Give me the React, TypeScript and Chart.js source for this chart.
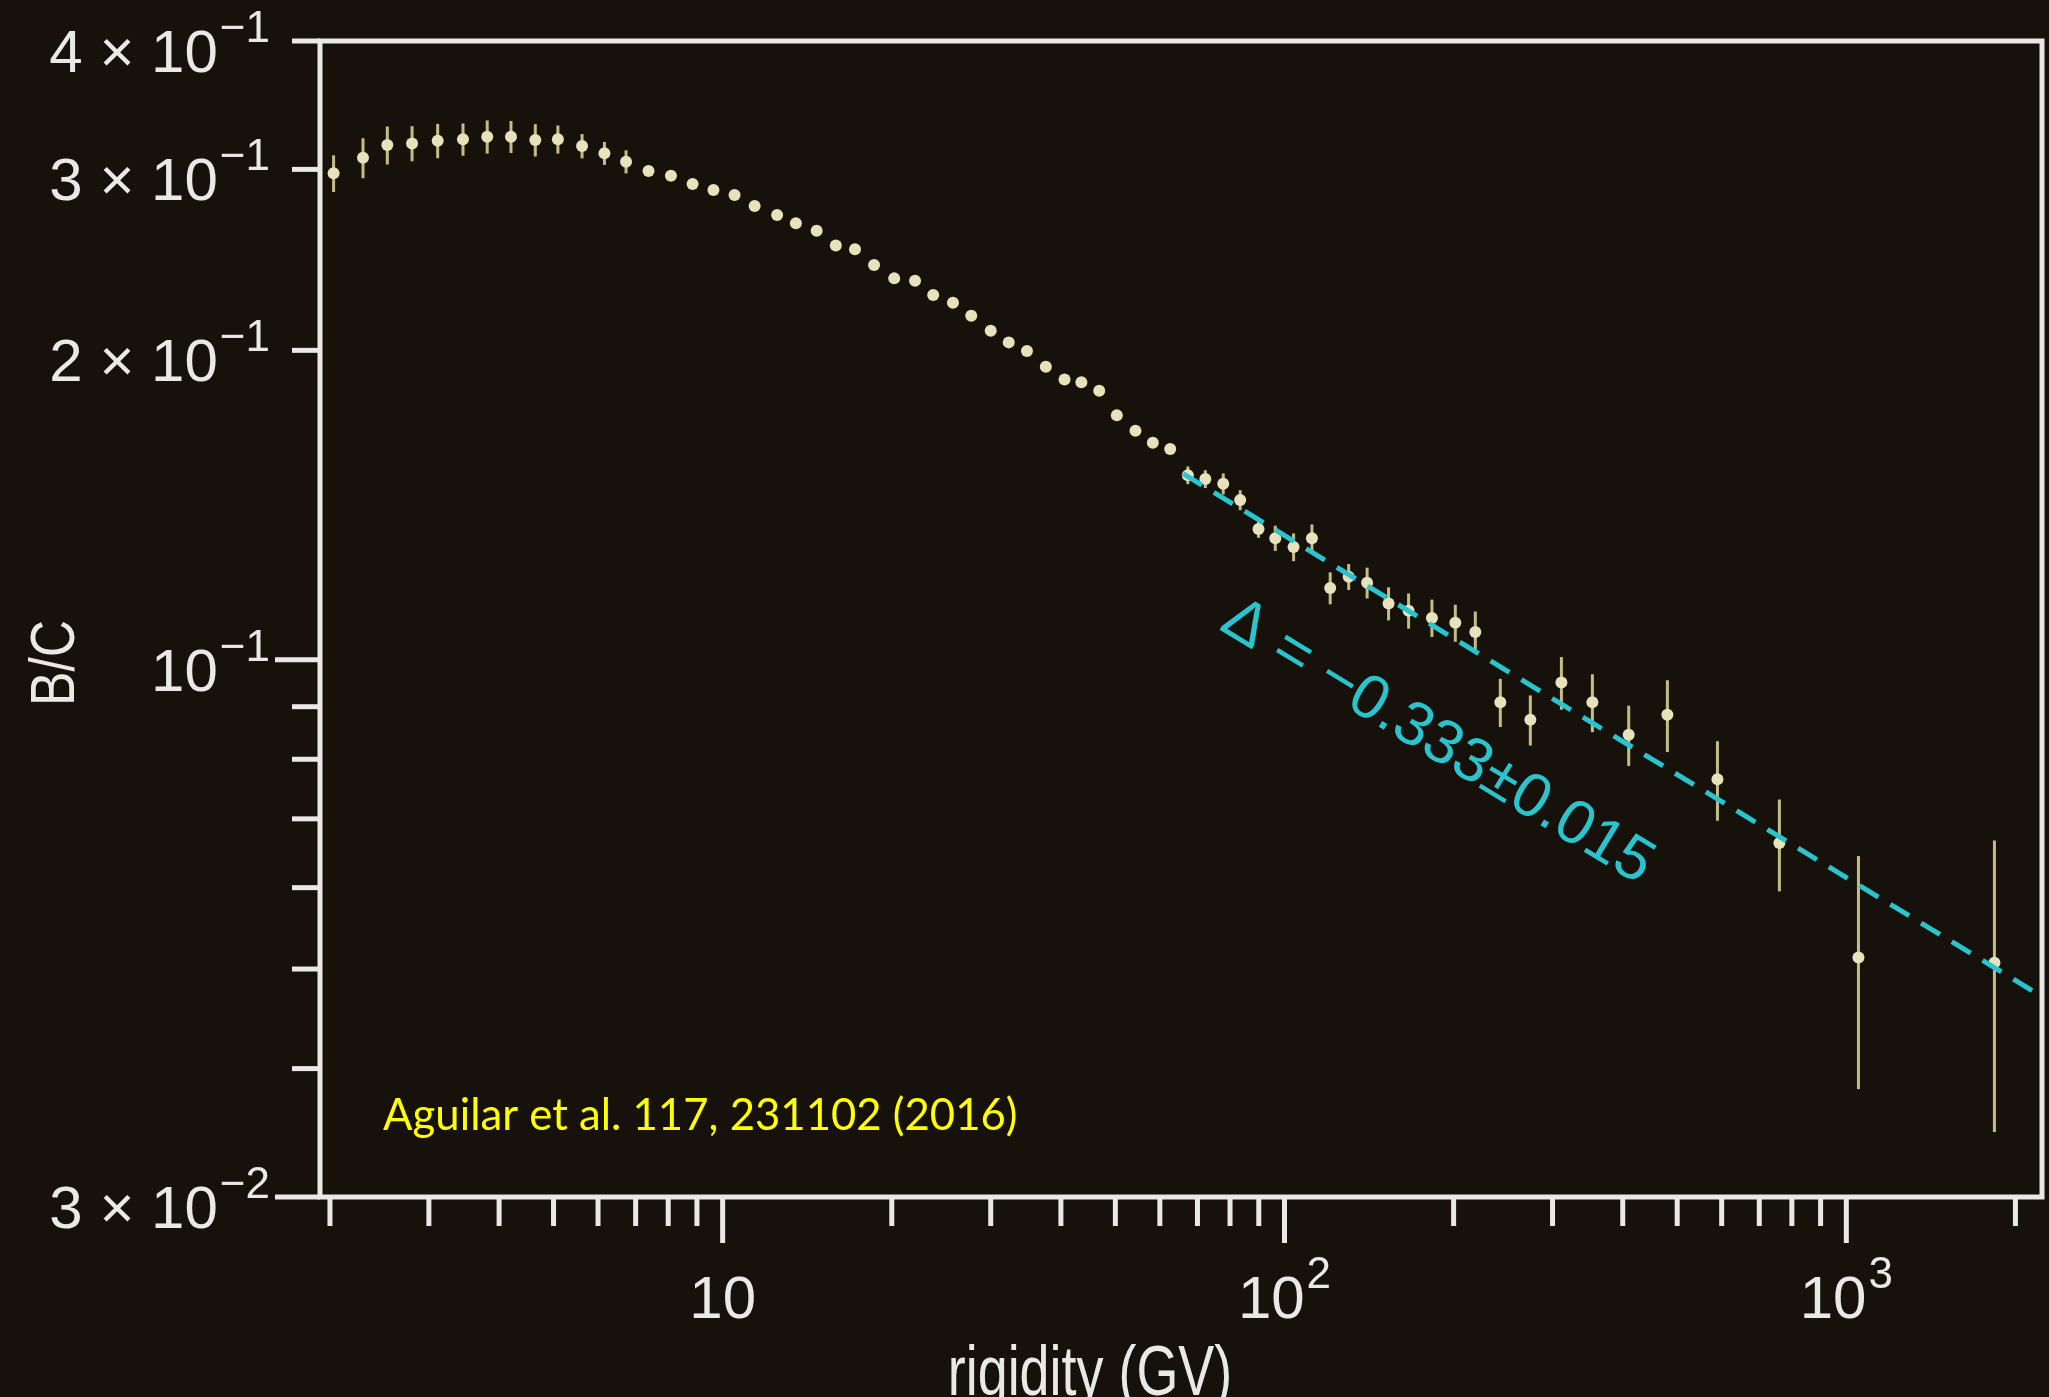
import { useEffect, useRef } from "react";
import { Chart, registerables } from "chart.js";

Chart.register(...registerables);

// ---------- data ----------
const rigidity = [
  2.03, 2.29, 2.53, 2.8, 3.11, 3.45, 3.81, 4.2, 4.64, 5.09, 5.62, 6.16, 6.73, 7.38, 8.09, 8.84, 9.63, 10.5, 11.4, 12.5, 13.5, 14.7,
  15.9, 17.2, 18.6, 20.2, 22.0, 23.7, 25.7, 27.7, 30.0, 32.3, 34.8, 37.6, 40.6, 43.5, 46.8, 50.3, 54.3, 58.3, 62.6,
  67.3, 72.3, 77.8, 83.4, 89.9, 96.3, 103.8, 111.9, 120.6, 130.1, 140.3, 153.2, 166.3, 183.0, 201.4, 218.6, 242.2, 273.9,
  311.1, 353.2, 409.9, 480.3, 589.7, 760.1, 1051, 1835,
];
const bcRatio = [
  0.2974, 0.3079, 0.3168, 0.318, 0.3199, 0.3209, 0.3228, 0.3228, 0.3204, 0.3209, 0.3161, 0.311, 0.3052, 0.2989, 0.2958, 0.2903, 0.2865, 0.2833, 0.2764, 0.2709, 0.2659, 0.2615,
  0.2529, 0.2508, 0.2421, 0.235, 0.2337, 0.2264, 0.2225, 0.2161, 0.209, 0.2036, 0.1997, 0.1928, 0.1874, 0.1862, 0.1827, 0.1729, 0.167, 0.1626, 0.1603,
  0.1512, 0.1499, 0.1483, 0.143, 0.134, 0.1313, 0.1287, 0.1313, 0.1174, 0.1204, 0.1188, 0.1134, 0.1116, 0.1098, 0.1086, 0.1064, 0.0909, 0.0874,
  0.095, 0.0909, 0.0845, 0.0884, 0.0765, 0.0663, 0.0513, 0.0507,
];
const bcError = [
  0.0122, 0.0138, 0.0135, 0.0125, 0.0123, 0.0116, 0.012, 0.0116, 0.0116, 0.0101, 0.0086, 0.008, 0.0079, 0.0034, 0.0033, 0.0032, 0.003, 0.0029, 0.0028, 0.0027, 0.0027, 0.0026,
  0.0026, 0.0025, 0.0024, 0.0024, 0.0023, 0.0023, 0.0022, 0.0022, 0.0021, 0.0021, 0.002, 0.002, 0.0019, 0.0019, 0.0019, 0.0018, 0.0018, 0.0018, 0.0018,
  0.003, 0.003, 0.0035, 0.0032, 0.0026, 0.0037, 0.004, 0.0041, 0.0042, 0.0035, 0.0041, 0.0042, 0.0044, 0.0046, 0.0045, 0.005, 0.0049, 0.0049,
  0.0056, 0.0059, 0.0057, 0.0071, 0.0068, 0.0068, 0.0131, 0.016,
];

// power-law fit (dashed line)
const fitX = [66, 2230];
const fitY = [0.1517, 0.047];
const fitLabel = "Δ = −0.333±0.015";
const fitLabelAt = [187, 0.0831];

const citation = "Aguilar et al. 117, 231102 (2016)";

// axes
const xMin = 1.92;
const xMax = 2230;
const yMin = 0.03;
const yMax = 0.4;
const xShortTicks = [2, 3, 4, 5, 6, 7, 8, 9, 20, 30, 40, 50, 60, 70, 80, 90, 200, 300, 400, 500, 600, 700, 800, 900, 2000];
const xLongTicks = [10, 100, 1000];
const xLabelValues = [10, 100, 1000];
const xLabelBase = ["10", "10", "10"];
const xLabelExp = ["", "2", "3"];
const yShortTicks = [0.4, 0.3, 0.2, 0.09, 0.08, 0.07, 0.06, 0.05, 0.04];
const yLongTicks = [0.1, 0.03];
const yLabelValues = [0.4, 0.3, 0.2, 0.1, 0.03];
const yLabelBase = ["4 × 10", "3 × 10", "2 × 10", "10", "3 × 10"];
const yLabelExp = ["−1", "−1", "−1", "−1", "−2"];
const xTitle = "rigidity (GV)";
const yTitle = "B/C";

// ---------- styles ----------
const BG = "#16110b";
const AXIS = "#e9e9e6";
const POINT = "#e6e2bc";
const ERR = "#c4bd84";
const CYAN = "#29c4cd";
const YELLOW = "#ffff00";
const FONT = '"Liberation Sans", Arial, sans-serif';

function drawPower(ctx: CanvasRenderingContext2D, base: string, exp: string, x: number, baseline: number, align: string) {
  ctx.font = `60px ${FONT}`;
  const wb = ctx.measureText(base).width;
  ctx.font = `44px ${FONT}`;
  const we = exp ? ctx.measureText(exp).width : 0;
  const gap = exp ? 2 : 0;
  const total = wb + gap + we;
  const x0 = align === "center" ? x - total / 2 : x - total;
  ctx.textAlign = "left";
  ctx.textBaseline = "alphabetic";
  ctx.font = `60px ${FONT}`;
  ctx.fillText(base, x0, baseline);
  if (exp) {
    ctx.font = `44px ${FONT}`;
    ctx.fillText(exp, x0 + wb + gap, baseline - 30);
  }
}

const decor = {
  id: "decor",
  beforeDatasetsDraw(chart: any) {
    const { ctx, chartArea: a } = chart;
    const xs = chart.scales.x;
    const ys = chart.scales.y;
    ctx.save();
    ctx.beginPath();
    ctx.rect(a.left, a.top, a.right - a.left, a.bottom - a.top);
    ctx.clip();
    ctx.strokeStyle = ERR;
    ctx.lineWidth = 3;
    for (let i = 0; i < rigidity.length; i++) {
      const px = xs.getPixelForValue(rigidity[i]);
      const top = ys.getPixelForValue(bcRatio[i] + bcError[i]);
      const bot = ys.getPixelForValue(bcRatio[i] - bcError[i]);
      ctx.beginPath();
      ctx.moveTo(px, top);
      ctx.lineTo(px, bot);
      ctx.stroke();
    }
    ctx.restore();
  },
  afterDatasetsDraw(chart: any) {
    const { ctx, chartArea: a } = chart;
    const xs = chart.scales.x;
    const ys = chart.scales.y;
    ctx.save();

    // frame
    ctx.strokeStyle = AXIS;
    ctx.lineWidth = 5;
    ctx.strokeRect(a.left, a.top, a.right - a.left, a.bottom - a.top);

    // ticks
    ctx.lineWidth = 5;
    ctx.lineCap = "butt";
    const tick = (x1: number, y1: number, x2: number, y2: number) => {
      ctx.beginPath();
      ctx.moveTo(x1, y1);
      ctx.lineTo(x2, y2);
      ctx.stroke();
    };
    xShortTicks.forEach((v) => {
      const p = xs.getPixelForValue(v);
      tick(p, a.bottom, p, a.bottom + 29);
    });
    xLongTicks.forEach((v) => {
      const p = xs.getPixelForValue(v);
      tick(p, a.bottom, p, a.bottom + 46);
    });
    yShortTicks.forEach((v) => {
      const p = ys.getPixelForValue(v);
      tick(a.left, p, a.left - 28, p);
    });
    yLongTicks.forEach((v) => {
      const p = ys.getPixelForValue(v);
      tick(a.left, p, a.left - 45, p);
    });

    // tick labels
    ctx.fillStyle = AXIS;
    xLabelValues.forEach((v, i) => {
      const p = xs.getPixelForValue(v);
      drawPower(ctx, xLabelBase[i], xLabelExp[i], p, a.bottom + 121, "center");
    });
    yLabelValues.forEach((v, i) => {
      const p = ys.getPixelForValue(v);
      drawPower(ctx, yLabelBase[i], yLabelExp[i], a.left - 50, p + 31, "right");
    });

    // axis titles (condensed)
    ctx.font = `70px ${FONT}`;
    ctx.textAlign = "center";
    ctx.textBaseline = "alphabetic";
    ctx.save();
    ctx.translate(1090, 1395);
    ctx.scale(0.77, 1);
    ctx.fillText(xTitle, 0, 0);
    ctx.restore();

    ctx.font = `63px ${FONT}`;
    ctx.save();
    ctx.translate(74, 663);
    ctx.rotate(-Math.PI / 2);
    ctx.scale(0.82, 1);
    ctx.fillText(yTitle, 0, 0);
    ctx.restore();

    // fit annotation
    const p0x = xs.getPixelForValue(fitX[0]);
    const p0y = ys.getPixelForValue(fitY[0]);
    const p1x = xs.getPixelForValue(fitX[1]);
    const p1y = ys.getPixelForValue(fitY[1]);
    const ang = Math.atan2(p1y - p0y, p1x - p0x);
    ctx.save();
    ctx.translate(xs.getPixelForValue(fitLabelAt[0]), ys.getPixelForValue(fitLabelAt[1]));
    ctx.rotate(ang);
    ctx.fillStyle = CYAN;
    ctx.font = `62px ${FONT}`;
    ctx.textAlign = "center";
    ctx.textBaseline = "middle";
    ctx.fillText(fitLabel, 0, 0);
    ctx.restore();

    // citation
    ctx.font = `100px Lato, "Open Sans", sans-serif`;
    const w100 = ctx.measureText(citation).width;
    const size = (100 * 634) / w100;
    ctx.font = `${size.toFixed(1)}px Lato, "Open Sans", sans-serif`;
    ctx.fillStyle = YELLOW;
    ctx.textAlign = "left";
    ctx.textBaseline = "alphabetic";
    ctx.fillText(citation, a.left + 63, a.bottom - 67);

    ctx.restore();
  },
};

export default function App() {
  const ref = useRef<HTMLCanvasElement | null>(null);

  useEffect(() => {
    if (!ref.current) return;
    const chart = new Chart(ref.current, {
      type: "scatter",
      data: {
        datasets: [
          {
            type: "line",
            label: "fit",
            data: fitX.map((x, i) => ({ x, y: fitY[i] })),
            borderColor: CYAN,
            borderWidth: 5,
            borderDash: [22, 14],
            pointRadius: 0,
            fill: false,
          } as any,
          {
            type: "scatter",
            label: "B/C",
            data: rigidity.map((x, i) => ({ x, y: bcRatio[i] })),
            backgroundColor: POINT,
            borderWidth: 0,
            pointRadius: 6,
          },
        ],
      },
      options: {
        animation: false,
        responsive: false,
        maintainAspectRatio: false,
        devicePixelRatio: 1,
        layout: { padding: { left: 0, top: 41, right: 7, bottom: 0 } },
        plugins: { legend: { display: false }, tooltip: { enabled: false } },
        scales: {
          x: {
            type: "logarithmic",
            position: "bottom",
            min: xMin,
            max: xMax,
            ticks: { display: false },
            grid: { display: false },
            border: { display: false },
            afterFit: (s: any) => {
              s.height = 200;
            },
          },
          y: {
            type: "logarithmic",
            position: "left",
            min: yMin,
            max: yMax,
            ticks: { display: false },
            grid: { display: false },
            border: { display: false },
            afterFit: (s: any) => {
              s.width = 320;
            },
          },
        },
      } as any,
      plugins: [decor],
    });
    return () => chart.destroy();
  }, []);

  return (
    <div style={{ position: "fixed", left: 0, top: 0, width: 2049, height: 1397, background: BG }}>
      <canvas ref={ref} width={2049} height={1397} style={{ display: "block" }} />
    </div>
  );
}
